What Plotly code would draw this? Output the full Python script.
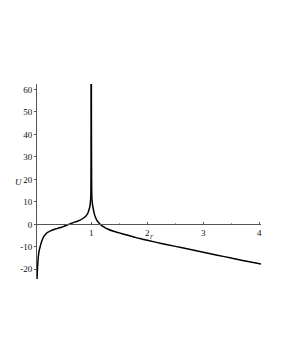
import plotly.graph_objects as go

# Left branch (r < 1)
r_left = [0.030, 0.035, 0.040, 0.050, 0.060, 0.075, 0.090, 0.110, 0.130, 0.150,
          0.180, 0.220, 0.270, 0.330, 0.400, 0.450, 0.500, 0.550, 0.600, 0.650,
          0.700, 0.750, 0.800, 0.850, 0.900, 0.930, 0.950, 0.970, 0.980, 0.990,
          0.995, 0.998, 0.9995]
u_left = [-24.3, -21.5, -19.0, -15.5, -13.0, -11.0, -9.6, -7.8, -6.5, -5.5,
          -4.5, -3.6, -2.9, -2.3, -1.8, -1.4, -1.0, -0.5, 0.0, 0.5,
          1.0, 1.4, 1.9, 2.6, 3.6, 4.6, 5.8, 7.5, 9.0, 12.0,
          20.0, 40.0, 64.0]

# Right branch (r > 1)
r_right = [1.0005, 1.002, 1.005, 1.010, 1.020, 1.030, 1.050, 1.070, 1.100, 1.130,
           1.160, 1.200, 1.300, 1.400, 1.500, 1.600, 1.700, 1.800, 1.900, 2.000,
           2.250, 2.500, 2.750, 3.000, 3.250, 3.500, 3.750, 4.030]
u_right = [64.0, 40.0, 20.0, 12.0, 9.0, 7.5, 5.0, 3.4, 1.8, 0.8,
           0.0, -0.8, -2.2, -3.1, -3.8, -4.5, -5.2, -5.9, -6.5, -7.1,
           -8.5, -9.8, -11.1, -12.4, -13.7, -15.0, -16.3, -17.6]

x_ticks = [1, 2, 3, 4]
y_ticks = [-20, -10, 0, 10, 20, 30, 40, 50, 60]

x_range = [0.03, 4.03]
y_range = [-24.3, 62.4]

OFF = 8  # page body margin offset
W, H = 273, 355
ML, MR, MT, MB = 29, 20, 76, 84
pw = W - ML - MR
ph = H - MT - MB

fig = go.Figure()
fig.add_trace(go.Scatter(x=r_left, y=u_left, mode="lines", line_shape="spline",
                         line=dict(color="black", width=1.5), showlegend=False))
fig.add_trace(go.Scatter(x=r_right, y=u_right, mode="lines", line_shape="spline",
                         line=dict(color="black", width=1.5), showlegend=False))

zero_pos = (0 - y_range[0]) / (y_range[1] - y_range[0])
axis_col = "#555555"
font = dict(family="Liberation Serif", size=9, color="#111111")

def px(xw, yw):
    return (xw - OFF - ML) / pw, (H - MB - (yw - OFF)) / ph

ux, uy = px(13, 182)
rx, ry = px(152, 243)

fig.update_layout(
    width=W, height=H,
    margin=dict(l=ML, r=MR, t=MT, b=MB),
    paper_bgcolor="white", plot_bgcolor="white",
    xaxis=dict(range=x_range, tickvals=x_ticks, ticktext=[str(v) for v in x_ticks],
               showgrid=False, zeroline=False, showline=True, linecolor=axis_col,
               linewidth=1, anchor="free", position=zero_pos, automargin=False,
               ticks="inside", ticklen=2, tickcolor=axis_col, tickfont=font,
               minor=dict(tickvals=[1.5, 2.5, 3.5], ticks="inside", ticklen=1,
                          tickcolor="#999999")),
    yaxis=dict(range=y_range, tickvals=y_ticks, ticktext=[str(v) for v in y_ticks],
               showgrid=False, zeroline=False, showline=True, linecolor=axis_col,
               linewidth=1, ticks="outside", ticklen=2, tickcolor=axis_col,
               tickfont=font, automargin=False),
    annotations=[
        dict(text="<i>U</i>", x=ux, y=uy, xref="paper", yref="paper",
             showarrow=False, font=font),
        dict(text="<i>r</i>", x=rx, y=ry, xref="paper", yref="paper",
             showarrow=False,
             font=dict(family="Liberation Serif", size=8, color="#444444")),
    ],
)

fig.write_html("out.html")
